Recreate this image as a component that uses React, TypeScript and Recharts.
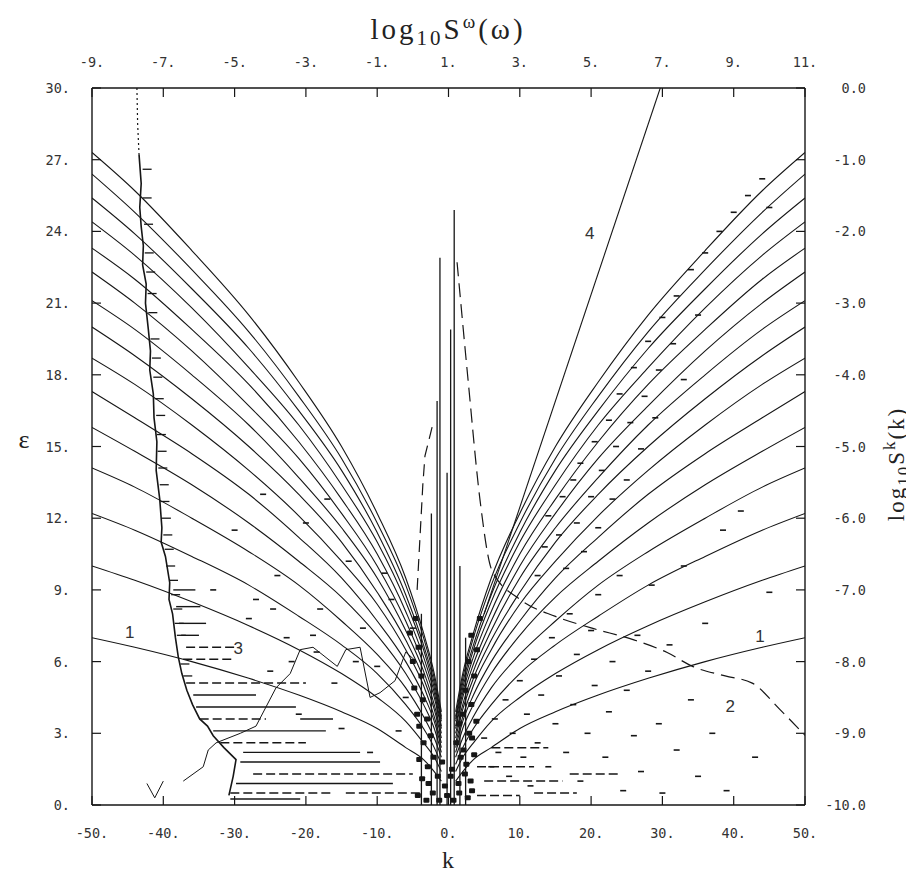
import { ComposedChart, Line, Scatter, XAxis, YAxis } from "recharts";

const INK = "#161616";
const MONO = "'DejaVu Sans Mono', monospace";
const SERIF = "'Liberation Serif', 'DejaVu Serif', serif";

// axis ticks
const kTicks = [-50, -40, -30, -20, -10, 0, 10, 20, 30, 40, 50];
const eTicks = [0, 3, 6, 9, 12, 15, 18, 21, 24, 27, 30];
const wTicks = [-9, -7, -5, -3, -1, 1, 3, 5, 7, 9, 11];
const sTicks = [-10, -9, -8, -7, -6, -5, -4, -3, -2, -1, 0];

// |k| where the 15 level curves were read (same on both sides of k = 0)
const curveK = [1, 2, 3.5, 6, 10, 15, 21, 28, 36, 44, 50];
const curveE = [
  [1.0, 1.4, 1.9, 2.4, 3.2, 3.9, 4.6, 5.3, 6.0, 6.6, 7.0],
  [1.4, 2.0, 2.6, 3.5, 4.5, 5.5, 6.5, 7.5, 8.5, 9.4, 10.0],
  [1.7, 2.4, 3.2, 4.2, 5.5, 6.7, 7.9, 9.2, 10.4, 11.5, 12.2],
  [2.0, 2.8, 3.7, 4.9, 6.3, 7.7, 9.2, 10.6, 12.0, 13.3, 14.1],
  [2.2, 3.2, 4.2, 5.5, 7.1, 8.7, 10.2, 11.8, 13.4, 14.8, 15.8],
  [2.4, 3.5, 4.6, 6.0, 7.7, 9.5, 11.2, 13.0, 14.7, 16.2, 17.3],
  [2.6, 3.7, 5.0, 6.5, 8.4, 10.2, 12.1, 14.0, 15.9, 17.6, 18.7],
  [2.8, 4.0, 5.3, 6.9, 8.9, 11.0, 13.0, 15.0, 17.0, 18.8, 20.0],
  [3.0, 4.2, 5.6, 7.3, 9.5, 11.6, 13.7, 15.9, 18.0, 19.9, 21.1],
  [3.2, 4.5, 5.9, 7.7, 10.0, 12.2, 14.5, 16.7, 19.0, 21.0, 22.3],
  [3.3, 4.7, 6.2, 8.1, 10.5, 12.8, 15.2, 17.6, 19.9, 22.0, 23.3],
  [3.5, 4.9, 6.5, 8.5, 11.0, 13.4, 15.9, 18.3, 20.8, 23.0, 24.4],
  [3.6, 5.1, 6.7, 8.8, 11.4, 14.0, 16.5, 19.1, 21.6, 23.9, 25.4],
  [3.7, 5.3, 7.0, 9.2, 11.8, 14.5, 17.1, 19.8, 22.4, 24.8, 26.4],
  [3.9, 5.5, 7.2, 9.5, 12.2, 15.0, 17.7, 20.5, 23.2, 25.7, 27.3],
];

// left boundary ("wall") of the scattered region
const wallTopK = [-43.7, -43.6, -43.4];
const wallTopE = [30, 28.5, 27.2];
const wallK = [-43.4, -43.1, -43.3, -43.1, -42.8, -42.9, -42.4, -42.5, -42.1, -41.8, -41.9, -41.4, -41.3, -40.9, -41.0, -40.5, -40.2, -40.3, -39.7, -39.1, -39.2, -38.7, -38.3, -37.9, -37.4, -36.7, -35.9, -34.9, -33.8, -33.0, -31.5, -29.8, -30.2, -30.8];
const wallE = [27.2, 26.0, 25.0, 24.2, 23.4, 22.6, 21.8, 21.0, 19.9, 19.0, 18.2, 17.2, 16.2, 15.2, 14.0, 12.8, 11.6, 11.0, 10.4, 9.3, 8.6, 8.0, 7.0, 6.2, 5.5, 4.8, 4.2, 3.6, 3.3, 2.9, 2.4, 1.9, 1.2, 0.4];

// short marks hanging off the wall [k, eps]
const wallDashes = [
  [-42.9, 26.6], [-42.9, 25.4], [-42.7, 24.3], [-42.6, 23.1], [-42.4, 22.3], [-42.2, 21.4],
  [-42.1, 20.6], [-41.8, 19.5], [-41.6, 18.7], [-41.4, 17.9], [-41.2, 17.0], [-41.0, 16.3],
  [-40.9, 15.5], [-40.8, 14.8], [-40.7, 14.1], [-40.5, 13.4], [-40.4, 12.7], [-40.2, 12.0],
  [-40.0, 11.3], [-39.8, 10.7], [-39.6, 10.0], [-39.2, 9.4], [-38.9, 8.8], [-38.6, 8.2],
  [-38.4, 7.6], [-38.1, 7.1], [-37.6, 5.9], [-37.2, 5.4],
];

// scattered short dashes [k, eps]
const leftDashes = [
  [-33, 9.0], [-30, 11.5], [-28, 7.8], [-26, 13.0], [-24, 9.6], [-22, 6.0], [-20, 11.8],
  [-18, 8.2], [-16, 5.1], [-14, 10.2], [-12, 7.4], [-10, 5.8], [-8, 8.6], [-6, 4.5],
  [-25, 5.6], [-21, 3.8], [-15, 3.2], [-11, 2.2], [-7, 3.1], [-17, 12.8], [-27, 8.6],
  [-19, 7.1], [-13, 6.0], [-9, 9.7], [-5, 7.4], [-24.6, 8.2], [-22.7, 7.0], [-18.5, 6.4],
];
const rightDashes = [
  [12.5, 9.6], [13.5, 10.8], [14.0, 12.1], [15.5, 11.3], [16.0, 12.9], [16.5, 9.9], [17.5, 13.6],
  [18.0, 11.8], [18.5, 14.3], [19.0, 10.6], [20.0, 12.9], [20.5, 15.2], [21.0, 11.6], [21.5, 14.0],
  [22.5, 16.1], [23.0, 12.8], [23.5, 15.0], [24.0, 17.2], [25.0, 13.6], [25.5, 16.0], [26.0, 18.3],
  [27.0, 14.9], [27.5, 17.1], [28.0, 19.4], [29.0, 16.2], [29.5, 18.2], [30.0, 20.4], [31.5, 19.3],
  [32.0, 21.3], [33.0, 17.8], [34.0, 22.4], [35.0, 20.5], [36.0, 23.1], [38.0, 24.0], [40.0, 24.8],
  [42.0, 25.5], [44.0, 26.2], [45.0, 25.0],
  [5.0, 2.8], [6.0, 1.6], [6.5, 3.6], [7.0, 2.2], [8.0, 4.4], [8.5, 1.2], [9.0, 3.0], [10.0, 5.2],
  [10.5, 2.0], [11.0, 3.8], [11.5, 0.8], [12.0, 6.1], [12.5, 2.6], [13.0, 4.6], [14.0, 1.6],
  [14.5, 7.0], [15.0, 3.4], [15.5, 5.4], [16.5, 2.2], [17.0, 8.0], [17.5, 4.2], [18.0, 6.3],
  [18.5, 1.0], [19.5, 3.0], [20.0, 7.3], [20.5, 5.0], [21.0, 8.8], [22.0, 2.0], [22.5, 3.9],
  [23.0, 6.0], [24.0, 9.6], [24.5, 0.6], [25.0, 4.8], [26.0, 2.9], [26.5, 7.1], [27.0, 1.4],
  [28.0, 5.6], [28.5, 9.2], [29.5, 3.4], [30.0, 0.5], [31.0, 6.7], [32.0, 2.3], [33.0, 10.0],
  [34.0, 4.4], [35.0, 1.2], [36.0, 7.6], [37.0, 3.0], [38.5, 11.5], [39.0, 0.6], [41.0, 12.3],
  [43.0, 2.0], [45.0, 8.9],
];

// dark clumps around k = 0
const centerBlobs = [
  [-4.3, 0.4], [-3.1, 0.2], [-2.2, 0.5], [-1.3, 0.2], [-0.2, 0.4], [0.7, 0.2], [1.5, 0.5], [2.7, 0.3], [3.3, 0.6],
  [-3.7, 1.1], [-2.8, 0.9], [-1.5, 1.2], [-0.5, 0.8], [0.3, 1.2], [1.4, 0.9], [2.3, 1.3], [3.1, 1.0],
  [-4.1, 1.9], [-2.9, 1.6], [-2.1, 2.0], [-0.9, 1.8], [0.5, 1.5], [1.7, 2.0], [2.5, 1.7], [3.6, 2.1],
  [-3.5, 2.6], [-2.5, 2.9], [1.1, 2.6], [2.1, 2.3], [3.3, 2.8],
  [-4.1, 3.3], [-3.0, 3.6], [1.5, 3.4], [2.9, 3.0], [3.9, 3.5],
  [-4.4, 3.8], [-3.6, 4.4], [-4.8, 4.9], [-3.8, 5.4], [-5.0, 6.0], [-4.2, 6.6], [-5.4, 7.2], [-4.6, 7.8],
  [2.0, 3.8], [3.2, 4.2], [2.4, 4.8], [3.6, 5.4], [2.8, 6.0], [4.0, 6.5], [3.2, 7.1], [4.4, 7.8],
];

// horizontal runs [k from, k to, eps]
const dashedRows = [
  [-36.8, -29.8, 6.6], [-37.2, -30.2, 6.1], [-36.8, -20.0, 5.1], [-34.9, -25.6, 3.6],
  [-32.0, -20.0, 2.6], [-30.6, -16.2, 0.5], [-14.4, -4.0, 0.5], [-27.4, -5.0, 1.3],
  [4, 12, 1.6], [5, 16, 1.0], [4, 10, 0.4], [12, 18, 0.5], [6, 14, 2.4], [17, 24, 1.3],
];
const solidRows = [
  [-35.8, -27.0, 4.6], [-35.4, -21.4, 4.1], [-33.0, -17.2, 3.1], [-28.8, -12.4, 2.2],
  [-29.2, -9.6, 1.8], [-29.8, -7.8, 0.9], [-20.8, -16.2, 3.6], [-30.6, -20.8, 0.25],
  [-38.6, -35.5, 9.0], [-38.2, -34.8, 8.3], [-37.8, -34.0, 7.6], [-37.5, -35.0, 7.1],
];

// vertical spikes near k = 0
const spikeK = [-3.8, -2.4, -1.6, -1.2, -0.2, 0.3, 0.8, 1.6, 2.4];
const spikeTop = [8, 12.2, 16.9, 22.9, 13.9, 19.9, 24.9, 10, 7];

// curve 2 and its peak, on the right axis (log10 S^k)
const tentLeftK = [-2.3, -3.3, -3.6, -4.0, -4.4];
const tentLeftS = [-4.73, -5.13, -5.53, -6.27, -7.0];
const curve2K = [1.2, 2.8, 4.4, 6.1, 10, 15, 20, 26.1, 30.6, 34.3, 38.8, 42.6, 46.5, 50];
const curve2S = [-2.43, -4.13, -5.73, -6.73, -7.13, -7.37, -7.53, -7.7, -7.87, -8.07, -8.2, -8.3, -8.67, -9.03];

// curve 3 (left, irregular)
const curve3K = [-37.2, -34.4, -33.7, -32.6, -29.2, -27.0, -25.6, -24.2, -22.2, -20.8, -19.0, -15.6, -14.4, -12.4, -11.0, -9.6, -7.5, -6.0, -4.5];
const curve3E = [1.0, 1.6, 2.3, 2.6, 3.0, 3.3, 4.1, 4.9, 5.5, 6.5, 6.6, 5.8, 6.5, 6.6, 4.5, 4.7, 5.2, 6.4, 6.0];
const curve3bK = [-42.3, -41.2, -40.0];
const curve3bE = [0.9, 0.3, 1.0];

// curve 4, on the top axis (log10 S^w)
const line4W = [2.0, 6.94];
const line4E = [8.0, 30];

// curve labels
const labelK = [-44.7, 43.7, 39.5, -29.5, 19.8];
const labelE = [7.0, 6.8, 3.9, 6.3, 23.7];
const labelText = ["1", "1", "2", "3", "4"];

const W = 906;
const H = 864;

const pts = (ks: number[], ys: number[], kx: string, ky: string) =>
  ks.map((k, i) => ({ [kx]: k, [ky]: ys[i] }));

const tickText = { fontFamily: MONO, fontSize: 13.5, fill: "#333" };

function BottomTick({ x, y, payload }: any) {
  return (
    <g>
      <line x1={x} x2={x} y1={y} y2={y - 9} stroke={INK} strokeWidth={1.2} />
      <text x={x} y={y + 33} textAnchor="middle" {...tickText}>{`${payload.value}.`}</text>
    </g>
  );
}
function TopTick({ x, y, payload }: any) {
  return (
    <g>
      <line x1={x} x2={x} y1={y} y2={y + 9} stroke={INK} strokeWidth={1.2} />
      <text x={x} y={y - 21} textAnchor="middle" {...tickText}>{`${payload.value}.`}</text>
    </g>
  );
}
function LeftTick({ x, y, payload }: any) {
  return (
    <g>
      <line x1={x} x2={x + 9} y1={y} y2={y} stroke={INK} strokeWidth={1.2} />
      <text x={x - 22} y={y + 5} textAnchor="end" {...tickText}>{`${payload.value}.`}</text>
    </g>
  );
}
function RightTick({ x, y, payload }: any) {
  return (
    <g>
      <line x1={x} x2={x - 9} y1={y} y2={y} stroke={INK} strokeWidth={1.2} />
      <text x={x + 61} y={y + 5} textAnchor="end" {...tickText}>{Number(payload.value).toFixed(1)}</text>
    </g>
  );
}

const shortDash = (p: any) => (
  <line x1={p.cx - 3} x2={p.cx + 3} y1={p.cy} y2={p.cy} stroke={INK} strokeWidth={1.6} />
);
const wallDash = (p: any) => (
  <line x1={p.cx} x2={p.cx + 9} y1={p.cy} y2={p.cy} stroke={INK} strokeWidth={1.3} />
);
const blob = (p: any) => <rect x={p.cx - 3} y={p.cy - 2.5} width={6} height={5} rx={1} fill={INK} />;
const labelShape = (p: any) => (
  <text x={p.cx} y={p.cy} textAnchor="middle" fontFamily="'Liberation Sans', sans-serif" fontSize={17} fill="#333">
    {p.payload.t}
  </text>
);

export default function App() {
  const common = { dot: false, isAnimationActive: false, activeDot: false } as const;
  return (
    <div style={{ position: "relative", width: W, height: H, color: "#222" }}>
      <ComposedChart width={W} height={H} margin={{ top: 40, right: 69, bottom: 27, left: 44 }}>
        <XAxis xAxisId="k" dataKey="k" type="number" domain={[-50, 50]} ticks={kTicks} interval={0}
          height={40} tickSize={0} tickMargin={0} tickLine={false} tick={BottomTick}
          axisLine={{ stroke: INK, strokeWidth: 1.4 }} allowDataOverflow />
        <XAxis xAxisId="w" dataKey="w" orientation="top" type="number" domain={[-9, 11]} ticks={wTicks} interval={0}
          height={40} tickSize={0} tickMargin={0} tickLine={false} tick={TopTick}
          axisLine={{ stroke: INK, strokeWidth: 1.4 }} allowDataOverflow />
        <YAxis yAxisId="e" type="number" domain={[0, 30]} ticks={eTicks} interval={0}
          width={40} tickSize={0} tickMargin={0} tickLine={false} tick={LeftTick}
          axisLine={{ stroke: INK, strokeWidth: 1.4 }} allowDataOverflow />
        <YAxis yAxisId="s" orientation="right" type="number" domain={[-10, 0]} ticks={sTicks} interval={0}
          width={40} tickSize={0} tickMargin={0} tickLine={false} tick={RightTick}
          axisLine={{ stroke: INK, strokeWidth: 1.4 }} allowDataOverflow />

        {dashedRows.map(([a, b, e], i) => (
          <Line key={`dr${i}`} {...common} xAxisId="k" yAxisId="e" dataKey="e" type="linear"
            data={[{ k: a, e }, { k: b, e }]} stroke={INK} strokeWidth={1.5} strokeDasharray="9 4" />
        ))}
        {solidRows.map(([a, b, e], i) => (
          <Line key={`sr${i}`} {...common} xAxisId="k" yAxisId="e" dataKey="e" type="linear"
            data={[{ k: a, e }, { k: b, e }]} stroke={INK} strokeWidth={1.4} />
        ))}

        {curveE.map((row, i) => (
          <Line key={`cr${i}`} {...common} xAxisId="k" yAxisId="e" dataKey="e" type="monotone"
            data={pts(curveK, row, "k", "e")} stroke={INK} strokeWidth={1.1} />
        ))}
        {curveE.map((row, i) => (
          <Line key={`cl${i}`} {...common} xAxisId="k" yAxisId="e" dataKey="e" type="monotone"
            data={pts(curveK.map((k) => -k).reverse(), [...row].reverse(), "k", "e")} stroke={INK} strokeWidth={1.1} />
        ))}

        {spikeK.map((k, i) => (
          <Line key={`sp${i}`} {...common} xAxisId="k" yAxisId="e" dataKey="e" type="linear"
            data={[{ k, e: 0 }, { k, e: spikeTop[i] }]} stroke={INK} strokeWidth={1.3} />
        ))}

        <Line {...common} xAxisId="k" yAxisId="e" dataKey="e" type="linear" data={pts(wallTopK, wallTopE, "k", "e")}
          stroke={INK} strokeWidth={1.2} strokeDasharray="2 3" />
        <Line {...common} xAxisId="k" yAxisId="e" dataKey="e" type="linear" data={pts(wallK, wallE, "k", "e")}
          stroke={INK} strokeWidth={1.6} />
        <Line {...common} xAxisId="k" yAxisId="e" dataKey="e" type="linear" data={pts(curve3K, curve3E, "k", "e")}
          stroke={INK} strokeWidth={1} />
        <Line {...common} xAxisId="k" yAxisId="e" dataKey="e" type="linear" data={pts(curve3bK, curve3bE, "k", "e")}
          stroke={INK} strokeWidth={1} />
        <Line {...common} xAxisId="k" yAxisId="s" dataKey="s" type="linear" data={pts(tentLeftK, tentLeftS, "k", "s")}
          stroke={INK} strokeWidth={1.2} strokeDasharray="12 7" />
        <Line {...common} xAxisId="k" yAxisId="s" dataKey="s" type="monotone" data={pts(curve2K, curve2S, "k", "s")}
          stroke={INK} strokeWidth={1.2} strokeDasharray="14 7" />
        <Line {...common} xAxisId="w" yAxisId="e" dataKey="e" type="linear" data={pts(line4W, line4E, "w", "e")}
          stroke={INK} strokeWidth={1.1} />

        <Scatter xAxisId="k" yAxisId="e" dataKey="e" isAnimationActive={false}
          data={wallDashes.map(([k, e]) => ({ k, e }))} shape={wallDash} />
        <Scatter xAxisId="k" yAxisId="e" dataKey="e" isAnimationActive={false}
          data={[...leftDashes, ...rightDashes].map(([k, e]) => ({ k, e }))} shape={shortDash} />
        <Scatter xAxisId="k" yAxisId="e" dataKey="e" isAnimationActive={false}
          data={centerBlobs.map(([k, e]) => ({ k, e }))} shape={blob} />
        <Scatter xAxisId="k" yAxisId="e" dataKey="e" isAnimationActive={false}
          data={labelK.map((k, i) => ({ k, e: labelE[i], t: labelText[i] }))} shape={labelShape} />
      </ComposedChart>

      <div style={{ position: "absolute", left: 190, width: 500, top: -4, textAlign: "center", fontFamily: SERIF, fontSize: 29, lineHeight: "36px", letterSpacing: 3 }}>
        log<sub style={{ fontSize: 21 }}>10</sub>S<sup style={{ fontSize: 19 }}>ω</sup>(ω)
      </div>
      <div style={{ position: "absolute", left: 400, width: 80, top: 840, textAlign: "center", fontFamily: SERIF, fontSize: 24, lineHeight: "24px" }}>
        k
      </div>
      <div style={{ position: "absolute", left: 4, width: 24, top: 418, textAlign: "center", fontFamily: SERIF, fontSize: 26, lineHeight: "28px" }}>
        ε
      </div>
      <div style={{ position: "absolute", left: 889, top: 456, transform: "translate(-50%, -50%) rotate(-90deg)", whiteSpace: "nowrap", fontFamily: SERIF, fontSize: 23, lineHeight: "24px", letterSpacing: 2 }}>
        log<sub style={{ fontSize: 17 }}>10</sub>S<sup style={{ fontSize: 17 }}>k</sup>(k)
      </div>
    </div>
  );
}
